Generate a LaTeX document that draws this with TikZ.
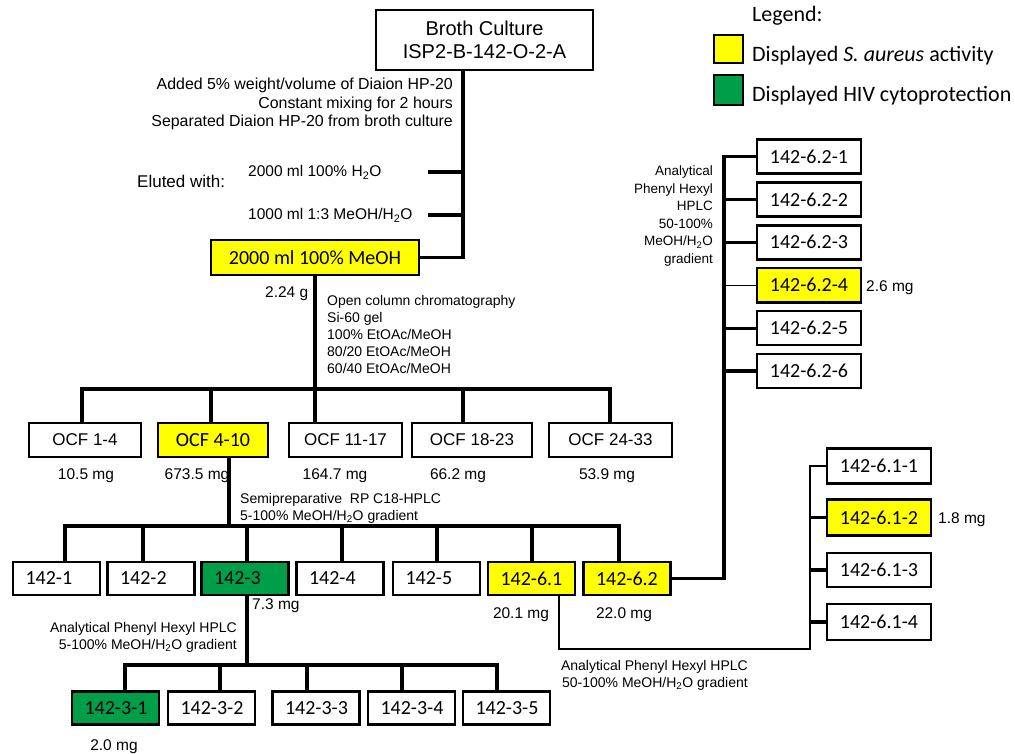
\documentclass[tikz,border=0pt]{standalone}
\usepackage{fontspec}
\setmainfont{Liberation Sans}
\newfontfamily\calfont{Carlito}
\definecolor{hivgreen}{RGB}{0,158,72}
\definecolor{sayellow}{RGB}{255,255,0}
\begin{document}
\begin{tikzpicture}[x=1pt,y=-1pt,
  box/.style={draw=black, line width=2.6pt, inner sep=0pt, text=black,
    font=\calfont\fontsize{20}{24}\selectfont},
  rowbox/.style={box, text width=62pt, inner xsep=12.5pt, align=left, minimum height=33pt},
  sidebox/.style={box, minimum width=104pt, minimum height=34pt},
  ocfbox/.style={draw=black, line width=2.6pt, inner sep=0pt, minimum height=34pt,
    font=\fontsize{17}{20}\selectfont},
  lightborder/.style={line width=1.6pt},
  yel/.style={fill=sayellow},
  grn/.style={fill=hivgreen},
  conn/.style={line width=3.2pt},
  thinconn/.style={line width=1.4pt},
  midconn/.style={line width=2.4pt},
  mg/.style={font=\fontsize{15.5}{18}\selectfont, inner sep=0pt, anchor=base},
  note/.style={font=\fontsize{14}{17}\selectfont, inner sep=0pt},
  legtext/.style={font=\calfont\fontsize{22}{26}\selectfont, inner sep=0pt, anchor=base west}
]
\path[use as bounding box] (0,0) rectangle (1015,754);

% ---------- legend ----------
\node[legtext] (legend) at (752,22) {Legend:};
\node[draw=black, line width=2pt, yel, minimum width=29pt, minimum height=28pt, inner sep=0pt] (legy) at (728.5,49) {};
\node[draw=black, line width=2pt, grn, minimum width=29pt, minimum height=30pt, inner sep=0pt] (legg) at (728.5,90) {};
\node[legtext] (legyt) at (752,62) {Displayed \textit{S. aureus} activity};
\node[legtext] (leggt) at (752,102) {Displayed HIV cytoprotection};

% ---------- top ----------
\node[box, font=\fontsize{20}{23}\selectfont, align=center, minimum width=217pt, minimum height=60pt, line width=2.4pt] (broth) at (484.5,40) {Broth Culture\\ISP2-B-142-O-2-A};
\node[note, font=\fontsize{15.9}{18.5}\selectfont, align=right, anchor=north east] (addtxt) at (453,78)
  {Added 5\% weight/volume of Diaion HP-20\\Constant mixing for 2 hours\\Separated Diaion HP-20 from broth culture};
\node[inner sep=0pt, font=\fontsize{17}{20}\selectfont, anchor=base west] (eluted) at (137,188) {Eluted with:};
\node[inner sep=0pt, font=\fontsize{15.5}{18}\selectfont, anchor=base west] (el1) at (248,177) {2000 ml 100\% H\textsubscript{2}O};
\node[inner sep=0pt, font=\fontsize{15.5}{18}\selectfont, anchor=base west] (el2) at (248,220) {1000 ml 1:3 MeOH/H\textsubscript{2}O};
\node[box, yel, minimum width=208pt, minimum height=35pt] (meoh) at (315,257.5) {2000 ml 100\% MeOH};
\node[mg, anchor=base west] (g224) at (265,298) {2.24 g};
\node[note, align=left, anchor=north west] (occ) at (327,295)
  {Open column chromatography\\Si-60 gel\\100\% EtOAc/MeOH\\80/20 EtOAc/MeOH\\60/40 EtOAc/MeOH};

\coordinate (jA) at (463,257.5);
\coordinate (eA) at (428,172);
\coordinate (eB) at (428,215);
\draw[conn] (broth.south -| jA) -- (jA) -- (meoh.east);
\draw[conn] (eA) -- (eA -| jA);
\draw[conn] (eB) -- (eB -| jA);

% ---------- OCF row ----------
\node[ocfbox, minimum width=112pt] (ocf1) at (85,440) {OCF 1-4};
\node[ocfbox, yel, minimum width=110pt, font=\calfont\fontsize{20}{24}\selectfont] (ocf2) at (213,440) {OCF 4-10};
\node[ocfbox, minimum width=113pt] (ocf3) at (345.5,440) {OCF 11-17};
\node[ocfbox, lightborder, minimum width=120pt] (ocf4) at (472,440) {OCF 18-23};
\node[ocfbox, lightborder, minimum width=123pt] (ocf5) at (610.5,440) {OCF 24-33};
\node[mg] (mo1) at (86,479) {10.5 mg};
\node[mg] (mo2) at (197,479) {673.5 mg};
\node[mg] (mo3) at (335,479) {164.7 mg};
\node[mg] (mo4) at (458,479) {66.2 mg};
\node[mg] (mo5) at (607,479) {53.9 mg};

\coordinate (b2L) at (82,389);
\coordinate (b2R) at (610,389);
\coordinate (d2) at (211,389);
\coordinate (d3) at (315,389);
\coordinate (d4) at (463,389);
\draw[conn] (meoh.south) -- (meoh.south |- b2L);
\draw[conn] (ocf1.north -| b2L) -- (b2L) -- (b2R) -- (ocf5.north -| b2R);
\draw[conn] (d2) -- (d2 |- ocf2.north);
\draw[conn] (d3) -- (d3 |- ocf3.north);
\draw[conn] (d4) -- (d4 |- ocf4.north);

% ---------- row 3 ----------
\node[note, align=left, anchor=north west] (semi) at (240,493)
  {Semipreparative\ \ RP C18-HPLC\\5-100\% MeOH/H\textsubscript{2}O gradient};
\node[rowbox] (r1) at (56.5,578.5) {\mbox{142-1}};
\node[rowbox] (r2) at (151,578.5) {\mbox{142-2}};
\node[rowbox, grn] (r3) at (245,578.5) {\mbox{142-3}};
\node[rowbox] (r4) at (340,578.5) {\mbox{142-4}};
\node[rowbox] (r5) at (436.5,578.5) {\mbox{142-5}};
\node[rowbox, yel] (r61) at (531.5,578.5) {\mbox{142-6.1}};
\node[rowbox, yel] (r62) at (627,578.5) {\mbox{142-6.2}};
\node[mg, anchor=base west] (m3) at (252,609) {7.3 mg};
\node[mg] (m61) at (521,618) {20.1 mg};
\node[mg] (m62) at (624,618) {22.0 mg};

\coordinate (b3s) at (229,526);
\coordinate (b3L) at (65,526);
\coordinate (b3R) at (619,526);
\coordinate (c2) at (143,526);
\coordinate (c3) at (247,526);
\coordinate (c4) at (342,526);
\coordinate (c5) at (437,526);
\coordinate (c6) at (532,526);
\draw[conn] (ocf2.south -| b3s) -- (b3s);
\draw[conn] (r1.north -| b3L) -- (b3L) -- (b3R) -- (r62.north -| b3R);
\draw[conn] (c2) -- (c2 |- r2.north);
\draw[conn] (c3) -- (c3 |- r3.north);
\draw[conn] (c4) -- (c4 |- r4.north);
\draw[conn] (c5) -- (c5 |- r5.north);
\draw[conn] (c6) -- (c6 |- r61.north);

% ---------- row 4 ----------
\node[note, align=right, anchor=north east] (aphl) at (237,622)
  {Analytical Phenyl Hexyl HPLC\\5-100\% MeOH/H\textsubscript{2}O gradient};
\node[rowbox, grn] (q1) at (115.5,708) {\mbox{142-3-1}};
\node[rowbox] (q2) at (211.5,708) {\mbox{142-3-2}};
\node[rowbox] (q3) at (316,708) {\mbox{142-3-3}};
\node[rowbox] (q4) at (411.5,708) {\mbox{142-3-4}};
\node[rowbox] (q5) at (506.5,708) {\mbox{142-3-5}};
\node[mg] (mq1) at (114,750) {2.0 mg};

\coordinate (b4s) at (247,665);
\coordinate (b4L) at (125,665);
\coordinate (b4R) at (497,665);
\coordinate (e2) at (220,665);
\coordinate (e3) at (307,665);
\coordinate (e4) at (402,665);
\draw[conn] (r3.south -| b4s) -- (b4s);
\draw[conn] (q1.north -| b4L) -- (b4L) -- (b4R) -- (q5.north -| b4R);
\draw[conn] (e2) -- (e2 |- q2.north);
\draw[conn] (e3) -- (e3 |- q3.north);
\draw[conn] (e4) -- (e4 |- q4.north);

% ---------- 142-6.2 branch ----------
\node[note, font=\fontsize{13.5}{17.5}\selectfont, align=right, anchor=north east] (aphr) at (713,166)
  {Analytical\\Phenyl Hexyl\\HPLC\\50-100\%\\MeOH/H\textsubscript{2}O\\gradient};
\node[sidebox] (s1) at (809,156.5) {142-6.2-1};
\node[sidebox] (s2) at (809,199.4) {142-6.2-2};
\node[sidebox] (s3) at (809,242.3) {142-6.2-3};
\node[sidebox, yel] (s4) at (809,285.2) {142-6.2-4};
\node[sidebox] (s5) at (809,328.1) {142-6.2-5};
\node[sidebox] (s6) at (809,371) {142-6.2-6};
\node[mg, anchor=base west] (ms4) at (866,291) {2.6 mg};

\coordinate (v62) at (724,578.5);
\draw[conn] (r62.east) -- (v62) -- (v62 |- s1.west) -- (s1.west);
\draw[conn] (s2.west) -- (s2.west -| v62);
\draw[conn] (s3.west) -- (s3.west -| v62);
\draw[thinconn] (s4.west) -- (s4.west -| v62);
\draw[conn] (s5.west) -- (s5.west -| v62);
\draw[conn] (s6.west) -- (s6.west -| v62);

% ---------- 142-6.1 branch ----------
\node[sidebox, minimum height=35pt] (t1) at (879,466) {142-6.1-1};
\node[sidebox, yel, minimum height=36pt] (t2) at (879,517.5) {142-6.1-2};
\node[sidebox, minimum height=34pt] (t3) at (879,570) {142-6.1-3};
\node[sidebox, minimum height=36pt] (t4) at (879,622) {142-6.1-4};
\node[mg, anchor=base west] (mt2) at (938,523) {1.8 mg};
\node[note, align=right, anchor=north east] (aphb) at (748,660)
  {Analytical Phenyl Hexyl HPLC\\50-100\% MeOH/H\textsubscript{2}O gradient};

\coordinate (h61) at (559,649);
\coordinate (v61) at (810,649);
\draw[midconn] (r61.south -| h61) -- (h61) -- (v61) -- (v61 |- t1.west) -- (t1.west);
\draw[conn] (t2.west) -- (t2.west -| v61);
\draw[conn] (t3.west) -- (t3.west -| v61);
\draw[conn] (t4.west) -- (t4.west -| v61);
\end{tikzpicture}
\end{document}
